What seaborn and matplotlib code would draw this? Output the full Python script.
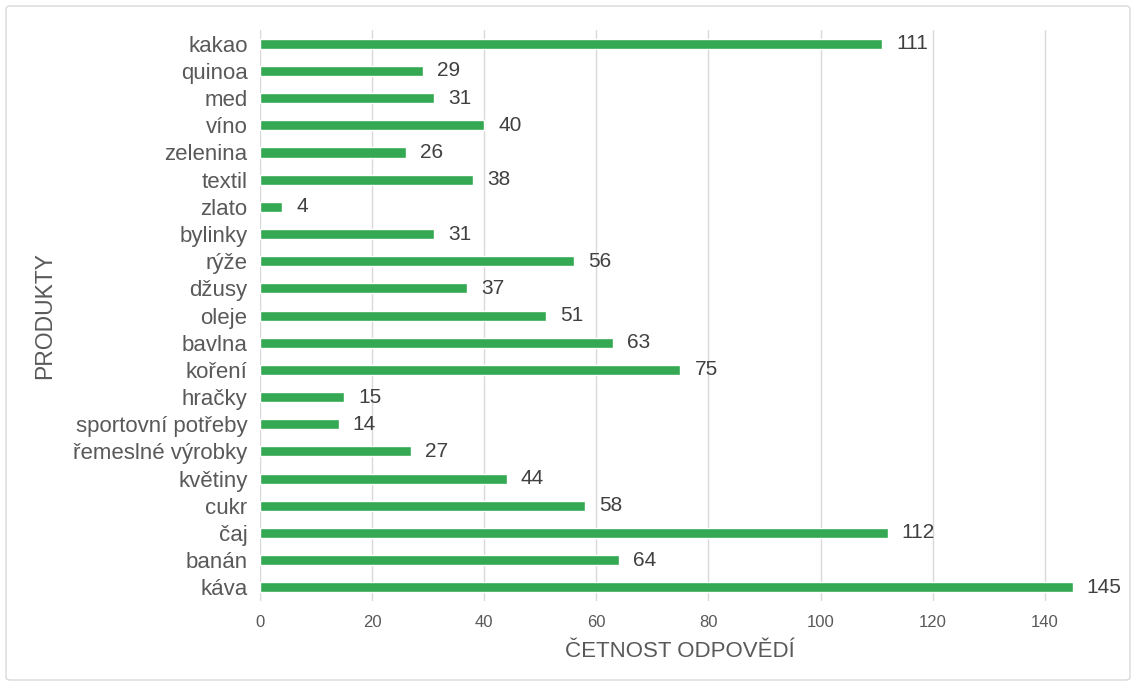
import matplotlib
matplotlib.use("Agg")
import matplotlib.pyplot as plt
import seaborn as sns
import pandas as pd
from matplotlib.patches import FancyBboxPatch

products = ["kakao", "quinoa", "med", "víno", "zelenina", "textil", "zlato", "bylinky",
            "rýže", "džusy", "oleje", "bavlna", "koření", "hračky", "sportovní potřeby",
            "řemeslné výrobky", "květiny", "cukr", "čaj", "banán", "káva"]
counts = [111, 29, 31, 40, 26, 38, 4, 31, 56, 37, 51, 63, 75, 15, 14, 27, 44, 58, 112, 64, 145]
x_ticks = [0, 20, 40, 60, 80, 100, 120, 140]

sns.set_theme(style="white")
plt.rcParams['font.family'] = ['Liberation Sans', 'DejaVu Sans']

df = pd.DataFrame({"produkt": products, "pocet": counts})

fig = plt.figure(figsize=(11.36, 6.86), dpi=100)
ax = fig.add_axes([0.2289, 0.124, 0.969 - 0.2289, 0.956 - 0.124])

sns.barplot(data=df, y="produkt", x="pocet", orient="h", color="#34A853",
            saturation=1, width=0.37, ax=ax)

for i, v in enumerate(counts):
    ax.text(v + 2.5, i, str(v), va="center", ha="left", fontsize=15, color="#404040")

ax.set_xlim(0, 150)
ax.set_ylim(len(products) - 0.5, -0.5)
ax.set_xticks(x_ticks)
ax.set_xticklabels([str(t) for t in x_ticks])
ax.xaxis.grid(True, color="#d9d9d9", linewidth=1)
ax.set_axisbelow(True)
for s in ax.spines.values():
    s.set_visible(False)
ax.tick_params(axis="y", length=0, labelsize=16, labelcolor="#595959", pad=9)
ax.tick_params(axis="x", length=0, labelsize=12, labelcolor="#595959", pad=10)
ax.set_xlabel("ČETNOST ODPOVĚDÍ", fontsize=16, color="#595959", labelpad=8)
ax.set_ylabel("PRODUKTY", fontsize=16.5, color="#595959", labelpad=12)

border = FancyBboxPatch((6 / 1136, 6 / 686), 1 - 12 / 1136, 1 - 12 / 686,
                        boxstyle="round,pad=0,rounding_size=0.004",
                        transform=fig.transFigure, fill=False,
                        edgecolor="#d9d9d9", linewidth=1)
fig.patches.append(border)

fig.savefig("out.png", dpi=100)
